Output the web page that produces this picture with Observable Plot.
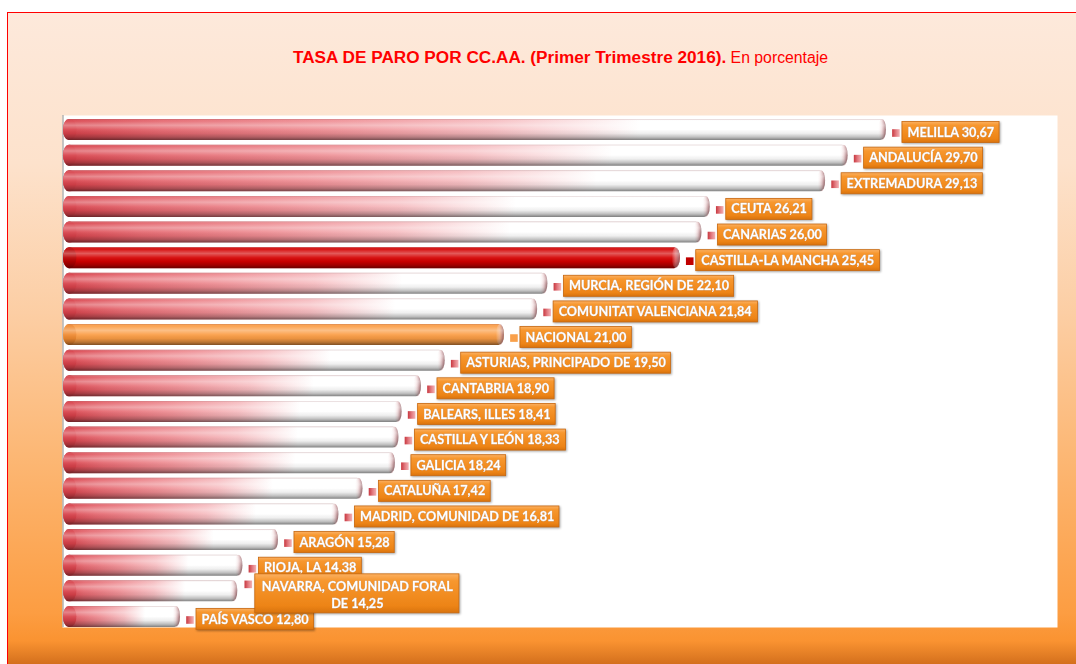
<!DOCTYPE html>
<html>
<head>
<meta charset="utf-8">
<script src="https://cdn.jsdelivr.net/npm/d3@7"></script>
<script src="https://cdn.jsdelivr.net/npm/@observablehq/plot@0.6"></script>
<style>
  html, body { margin: 0; padding: 0; background: #fff; width: 1076px; height: 664px; overflow: hidden; }
  #bg {
    position: absolute; left: 7px; top: 12px; width: 1100px; height: 700px;
    border-left: 1.5px solid #f00; border-top: 1.5px solid #f00;
    background: linear-gradient(to bottom,
      #fde9db 0px, #fde2cc 150px, #fccea4 300px, #fcb672 450px,
      #fc9d42 600px, #fa9331 628px, #d26e1c 652px, #c86618 700px);
  }
  #chart { position: absolute; left: 0; top: 0; }
  #title {
    position: absolute; left: 0; top: 47px; width: 1121px; text-align: center;
    color: #f00; font-family: "Liberation Sans", Arial, sans-serif; white-space: nowrap;
  }
  #title b { font-size: 17.2px; font-weight: bold; }
  #title span { font-size: 15.8px; }
  g[aria-description="label-box"] { filter: drop-shadow(1.5px 1.5px 1px rgba(0,0,0,0.35)); }
  g[aria-description="label-text"] { filter: drop-shadow(0.6px 0.6px 0.5px rgba(110,45,0,0.7)); }
</style>
</head>
<body>
<div id="bg"></div>
<div id="chart"></div>
<div id="title"><b>TASA DE PARO POR CC.AA. (Primer Trimestre 2016).</b><span> En porcentaje</span></div>
<script>
// ---- data ----
const names = [
  "MELILLA", "ANDALUCÍA", "EXTREMADURA", "CEUTA", "CANARIAS", "CASTILLA-LA MANCHA",
  "MURCIA, REGIÓN DE", "COMUNITAT VALENCIANA", "NACIONAL", "ASTURIAS, PRINCIPADO DE",
  "CANTABRIA", "BALEARS, ILLES", "CASTILLA Y LEÓN", "GALICIA", "CATALUÑA",
  "MADRID, COMUNIDAD DE", "ARAGÓN", "RIOJA, LA", "NAVARRA, COMUNIDAD FORAL", "PAÍS VASCO"
];
const values = [
  30.67, 29.70, 29.13, 26.21, 26.00, 25.45,
  22.10, 21.84, 21.00, 19.50,
  18.90, 18.41, 18.33, 18.24, 17.42,
  16.81, 15.28, 14.38, 14.25, 12.80
];
const labels = [
  "MELILLA 30,67", "ANDALUCÍA 29,70", "EXTREMADURA 29,13", "CEUTA 26,21", "CANARIAS 26,00",
  "CASTILLA-LA MANCHA 25,45", "MURCIA, REGIÓN DE 22,10", "COMUNITAT VALENCIANA 21,84",
  "NACIONAL 21,00", "ASTURIAS, PRINCIPADO DE 19,50", "CANTABRIA 18,90", "BALEARS, ILLES 18,41",
  "CASTILLA Y LEÓN 18,33", "GALICIA 18,24", "CATALUÑA 17,42", "MADRID, COMUNIDAD DE 16,81",
  "ARAGÓN 15,28", "RIOJA, LA 14.38", "NAVARRA, COMUNIDAD FORAL\nDE 14,25", "PAÍS VASCO 12,80"
];
const highlighted = "CASTILLA-LA MANCHA";
const national = "NACIONAL";

// ---- scale setup ----
const X_DOMAIN = [10, 35];
const X_RANGE = [69.4, 1057];
const pxPerUnit = (X_RANGE[1] - X_RANGE[0]) / (X_DOMAIN[1] - X_DOMAIN[0]);
const LABEL_SIZE = 12.7;
const LABEL_FAMILY = "Lato";
const ctx = document.createElement("canvas").getContext("2d");
ctx.font = `bold ${LABEL_SIZE}px ${LABEL_FAMILY}`;

const rows = names.map((name, i) => {
  const lines = labels[i].split("\n");
  const w = Math.max(...lines.map(l => ctx.measureText(l).width));
  const pad = lines.length > 1 ? 13 : 10;
  const boxEnd = values[i] + (w + pad) / pxPerUnit;
  return {
    name, value: values[i], label: labels[i],
    twoLine: lines.length > 1,
    kind: name === highlighted ? "hi" : name === national ? "total" : "region",
    boxEnd, boxMid: (values[i] + boxEnd) / 2
  };
});

const baseFill = d => d.kind === "hi" ? "#d40000" : d.kind === "total" ? "#fb9d45" : "url(#gRed)";
const capFill = d => d.kind === "hi" ? "#b80000" : d.kind === "total" ? "#f08a30" : "#d8414a";
const markFill = d => d.kind === "hi" ? "#c00000" : d.kind === "total" ? "#f9a04a" : "url(#gMark)";

const bar = {y: "name", x1: X_DOMAIN[0], x2: "value", insetLeft: -6.4, rx: 5.5, ry: 10.5};
const labelStyle = {fill: "white", stroke: "white", strokeWidth: 0.35, fontWeight: "bold",
  fontSize: LABEL_SIZE, fontFamily: LABEL_FAMILY, ariaDescription: "label-text"};

const chart = Plot.plot({
  width: 1076, height: 664,
  marginTop: 115, marginBottom: 37, marginLeft: 62, marginRight: 19,
  style: {background: "transparent", overflow: "visible"},
  x: {domain: X_DOMAIN, range: X_RANGE, axis: null},
  y: {domain: names, range: [116.7, 629.3], paddingInner: 0.18, paddingOuter: 0.09, round: false, axis: null},
  color: {type: "identity"},
  marks: [
    Plot.frame({fill: "white", stroke: "none"}),
    Plot.ruleX([X_DOMAIN[0]], {dx: -6.9, stroke: "#a8a8a8", strokeWidth: 1.3}),
    Plot.barX(rows, {...bar, fill: baseFill}),
    Plot.barX(rows, {y: "name", x1: X_DOMAIN[0], x2: X_DOMAIN[0], insetLeft: -6.4, insetRight: -7, rx: 6.5, ry: 10.5, fill: capFill}),
    Plot.barX(rows, {y: "name", x1: "value", x2: "value", insetLeft: -8, insetRight: 0, rx: 4, ry: 10.5, fill: "url(#gRim)"}),
    Plot.barX(rows, {...bar, fill: "url(#gShade)"}),
    Plot.dot(rows, {filter: d => !d.twoLine, x: "value", y: "name", dx: 9.5, dy: 3, symbol: "square", r: 4.3, fill: markFill}),
    Plot.dot(rows, {filter: d => d.twoLine, x: "value", y: "name", dx: 10.5, dy: -7, symbol: "square", r: 4.3, fill: markFill}),
    Plot.barX(rows, {filter: d => !d.twoLine, y: "name", x1: "value", x2: "boxEnd", dx: 16, dy: 2.5,
      fill: "url(#gBox)", stroke: "#c9680e", strokeWidth: 0.8, ariaDescription: "label-box"}),
    Plot.text(rows, {filter: d => !d.twoLine, x: "value", y: "name", text: "label", dx: 21, dy: 2.5,
      textAnchor: "start", ...labelStyle}),
    Plot.barX(rows, {filter: d => d.twoLine, y: "name", x1: "value", x2: "boxEnd", dx: 17.5, dy: 2.5,
      insetTop: -9, insetBottom: -9,
      fill: "url(#gBox)", stroke: "#c9680e", strokeWidth: 0.8, ariaDescription: "label-box"}),
    Plot.text(rows, {filter: d => d.twoLine, x: "boxMid", y: "name", text: "label", dx: 17.5, dy: 2.5,
      textAnchor: "middle", lineHeight: 1.4, ...labelStyle})
  ]
});

// gradient definitions used by the marks
const defs = d3.create("svg:defs");
function grad(id, vertical, stops) {
  const g = defs.append("linearGradient").attr("id", id)
    .attr("x1", 0).attr("y1", 0).attr("x2", vertical ? 0 : 1).attr("y2", vertical ? 1 : 0);
  for (const [o, c, a] of stops) g.append("stop").attr("offset", o).attr("stop-color", c).attr("stop-opacity", a ?? 1);
}
grad("gRed", false, [[0, "#d8414a"], [0.12, "#e4656d"], [0.32, "#ee8d93"], [0.52, "#f6bcc0"], [0.7, "#ffffff"], [1, "#ffffff"]]);
grad("gShade", true, [[0, "#8a4a4e", 0.35], [0.08, "#ffffff", 0.05], [0.3, "#ffffff", 0.35], [0.5, "#ffffff", 0.08],
  [0.68, "#000000", 0.06], [0.86, "#000000", 0.25], [1, "#000000", 0.5]]);
grad("gRim", false, [[0, "#ffffff", 0], [0.45, "#e8c4c6", 0.5], [0.8, "#b07a7e", 0.8], [1, "#8e6266", 0.9]]);
grad("gMark", false, [[0, "#c8363e"], [0.5, "#e27a80"], [1, "#f3b3b6"]]);
grad("gBox", true, [[0, "#fbb062"], [0.18, "#f7972e"], [0.82, "#ed8416"], [1, "#d9730d"]]);
chart.insertBefore(defs.node(), chart.firstChild);

document.getElementById("chart").appendChild(chart);
</script>
</body>
</html>
